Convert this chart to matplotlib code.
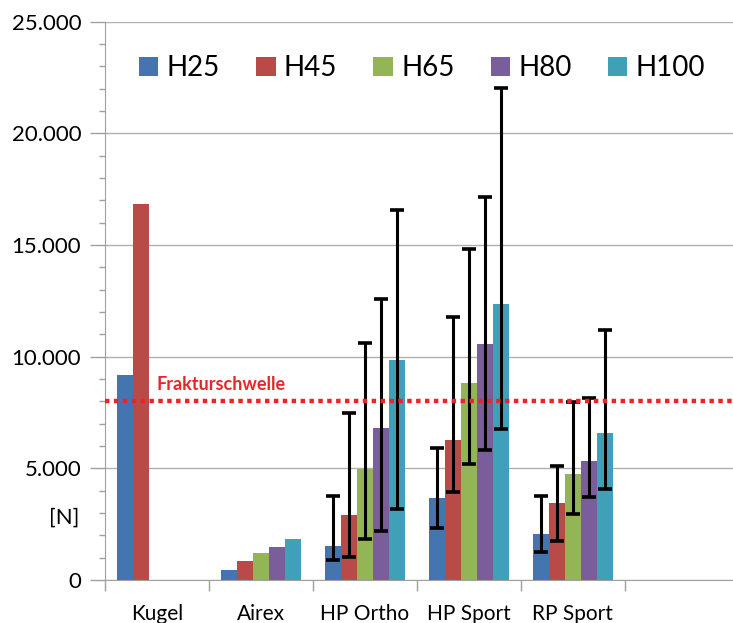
import numpy as np
import matplotlib
matplotlib.use('Agg')
from matplotlib import rc, pyplot as plt
from matplotlib.ticker import MultipleLocator, FuncFormatter

rc('font', family = ['Lato', 'DejaVu Sans'])

# Daten
kategorien = ['Kugel', 'Airex', 'HP Ortho', 'HP Sport', 'RP Sport']
serien = ['H25', 'H45', 'H65', 'H80', 'H100']
farben = ['#4475b0', '#b84a48', '#93b556', '#7a5e9c', '#3fa0b8']

werte = {
    'H25':  [9180, 450, 1520, 3670, 2060],
    'H45':  [16850, 850, 2900, 6270, 3450],
    'H65':  [np.nan, 1200, 4970, 8830, 4750],
    'H80':  [np.nan, 1500, 6800, 10570, 5330],
    'H100': [np.nan, 1850, 9860, 12370, 6600],
}
# Fehlerbalken: untere / obere Grenze (nur HP Ortho, HP Sport, RP Sport)
fehler_unten = {
    'H25':  [np.nan, np.nan, 900, 2330, 1250],
    'H45':  [np.nan, np.nan, 1030, 3940, 1750],
    'H65':  [np.nan, np.nan, 1840, 5200, 2960],
    'H80':  [np.nan, np.nan, 2200, 5820, 3720],
    'H100': [np.nan, np.nan, 3180, 6770, 4080],
}
fehler_oben = {
    'H25':  [np.nan, np.nan, 3770, 5900, 3770],
    'H45':  [np.nan, np.nan, 7480, 11780, 5100],
    'H65':  [np.nan, np.nan, 10620, 14830, 7970],
    'H80':  [np.nan, np.nan, 12600, 17160, 8150],
    'H100': [np.nan, np.nan, 16580, 22040, 11200],
}
frakturschwelle = 8000

fig = plt.figure(figsize = (7.33, 6.23), dpi = 100)
ax = fig.add_axes([0.143, 0.069, 0.857, 0.896])

x = np.arange(len(kategorien))
breite = 0.154
for i, s in enumerate(serien):
    pos = x + (i - 2) * breite
    w = np.array(werte[s], dtype = float)
    ax.bar(pos, np.nan_to_num(w), width = breite, color = farben[i], label = s, zorder = 2)
    lo = np.array(fehler_unten[s], dtype = float)
    hi = np.array(fehler_oben[s], dtype = float)
    m = ~np.isnan(lo)
    ax.errorbar(pos[m], w[m], yerr = [w[m] - lo[m], hi[m] - w[m]], fmt = 'none',
                ecolor = 'black', elinewidth = 2.2, capsize = 5, capthick = 2.6, zorder = 3)

ax.axhline(frakturschwelle, color = '#e8262a', lw = 3.2, linestyle = (0, (1, 1)), zorder = 4)
ax.text(0.0, 8750, 'Frakturschwelle', color = '#e8262a', fontsize = 13, fontweight = 'bold',
        va = 'center', ha = 'left', zorder = 5)

ax.set_ylim(0, 25000)
ax.set_xlim(-0.5, 5.54)
ax.yaxis.set_major_locator(MultipleLocator(5000))
ax.yaxis.set_minor_locator(MultipleLocator(1000))
ax.yaxis.set_major_formatter(FuncFormatter(lambda v, p: f'{int(v):,}'.replace(',', '.')))
ax.grid(axis = 'y', which = 'major', color = '#b0b0b0', lw = 1.0, zorder = 0)
ax.tick_params(axis = 'y', which = 'major', length = 11, width = 1, color = '#a0a0a0',
               labelsize = 16, pad = 6)
ax.tick_params(axis = 'y', which = 'minor', length = 4, width = 1, color = '#a0a0a0')

ax.set_xticks(x)
ax.set_xticklabels(kategorien, fontsize = 15)
ax.set_xticks(np.arange(len(kategorien) + 1) - 0.5, minor = True)
ax.tick_params(axis = 'x', which = 'major', length = 0, pad = 17)
ax.tick_params(axis = 'x', which = 'minor', length = 8, width = 1, color = '#a0a0a0')

for sp in ['top', 'right']:
    ax.spines[sp].set_visible(False)
for sp in ['left', 'bottom']:
    ax.spines[sp].set_color('#a0a0a0')

fig.text(64 / 733, 1 - 518 / 623, '[N]', fontsize = 16, ha = 'center', va = 'center')

ax.legend(loc = 'upper center', bbox_to_anchor = (0.505, 0.985), ncol = 5, frameon = False,
          fontsize = 20, handlelength = 0.7, handleheight = 0.7, handletextpad = 0.3,
          columnspacing = 1.3)

plt.savefig('out.png', dpi = 100)
